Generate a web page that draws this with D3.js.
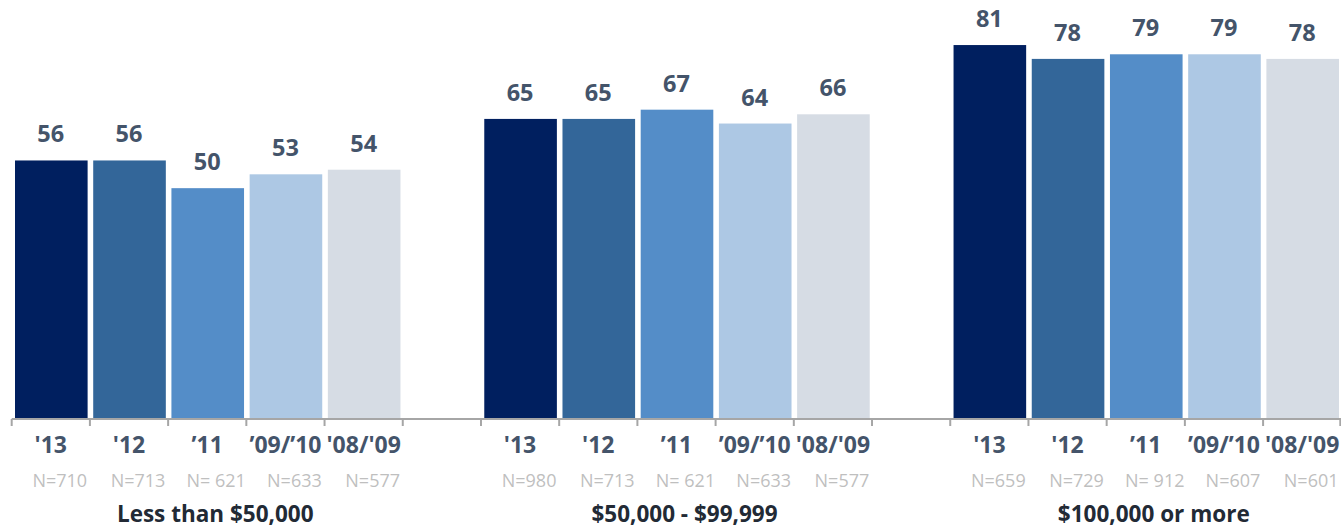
<!DOCTYPE html>
<html><head><meta charset="utf-8">
<script src="https://cdn.jsdelivr.net/npm/d3@7"></script>
<style>html,body{margin:0;padding:0;background:#fff;}svg{display:block;}</style>
</head><body>
<svg id="chart" width="1341" height="530"></svg>
<script>
const years = ["'13", "'12", "’11", "’09/’10", "'08/'09"];
const groups = ["Less than $50,000", "$50,000 - $99,999", "$100,000 or more"];
const valuesLow = [56, 56, 50, 53, 54];
const valuesMid = [65, 65, 67, 64, 66];
const valuesHigh = [81, 78, 79, 79, 78];
const nLow = ["N=710", "N=713", "N= 621", "N=633", "N=577"];
const nMid = ["N=980", "N=713", "N= 621", "N=633", "N=577"];
const nHigh = ["N=659", "N=729", "N= 912", "N=607", "N=601"];
const colors = ["#001f5f", "#336699", "#548dc8", "#adc8e4", "#d6dce4"];

const groupValues = [valuesLow, valuesMid, valuesHigh];
const groupN = [nLow, nMid, nHigh];

// slots: 5 per group with an empty slot between groups
const slots = [];
groups.forEach((g, gi) => {
  years.forEach((y, yi) => slots.push(`${gi}-${yi}`));
  if (gi < groups.length - 1) slots.push(`gap${gi}`);
});

const data = [];
groups.forEach((g, gi) => years.forEach((y, yi) => data.push({
  g: gi, yi, year: y, value: groupValues[gi][yi], n: groupN[gi][yi], slot: `${gi}-${yi}`
})));

const svg = d3.select("#chart");
const x = d3.scaleBand().domain(slots).range([11.7, 1341.3]).padding(0);
const y = d3.scaleLinear().domain([0, 90]).range([419, 3.5]);

const font = "'Open Sans', sans-serif";

// bars
svg.append("g").selectAll("rect").data(data).join("rect")
  .attr("x", d => x(d.slot) + 3.3)
  .attr("width", x.bandwidth() - 5.6)
  .attr("y", d => y(d.value))
  .attr("height", d => y(0) - y(d.value))
  .attr("fill", d => colors[d.yi]);

// value labels
svg.append("g").selectAll("text").data(data).join("text")
  .attr("x", d => x(d.slot) + x.bandwidth() / 2)
  .attr("y", d => y(d.value) - 18)
  .attr("text-anchor", "middle")
  .attr("font-family", font).attr("font-weight", "bold").attr("font-size", 23.5)
  .attr("fill", "#44546a")
  .text(d => d.value);

// axis
const axisG = svg.append("g");
const x0 = x.range()[0], x1 = x.range()[1];
axisG.append("line").attr("x1", x0).attr("x2", x1).attr("y1", y(0)).attr("y2", y(0))
  .attr("stroke", "#a6a6a6").attr("stroke-width", 2);
const boundaries = slots.map(s => x(s)).concat([x1 - 1]);
axisG.selectAll("line.tick").data(boundaries).join("line").attr("class", "tick")
  .attr("x1", d => d).attr("x2", d => d).attr("y1", y(0)).attr("y2", y(0) + 7)
  .attr("stroke", "#a6a6a6").attr("stroke-width", 2);

// category labels
svg.append("g").selectAll("text").data(data).join("text")
  .attr("x", d => x(d.slot) + x.bandwidth() / 2)
  .attr("y", 453.3)
  .attr("text-anchor", "middle")
  .attr("font-family", font).attr("font-weight", "bold").attr("font-size", 23)
  .attr("fill", "#44546a")
  .text(d => d.year);

// N labels
svg.append("g").selectAll("text").data(data).join("text")
  .attr("x", d => x(d.slot) + x.bandwidth() / 2 + 9)
  .attr("y", 487.3)
  .attr("text-anchor", "middle")
  .attr("font-family", font).attr("font-size", 18)
  .attr("fill", "#bfbfbf")
  .text(d => d.n);

// group labels
svg.append("g").selectAll("text").data(groups).join("text")
  .attr("x", (g, gi) => (x(`${gi}-0`) + x(`${gi}-4`) + x.bandwidth()) / 2 + 8)
  .attr("y", 522)
  .attr("text-anchor", "middle")
  .attr("font-family", font).attr("font-weight", "bold").attr("font-size", 22.5)
  .attr("fill", "#222a35")
  .text(d => d);
</script>
</body></html>
